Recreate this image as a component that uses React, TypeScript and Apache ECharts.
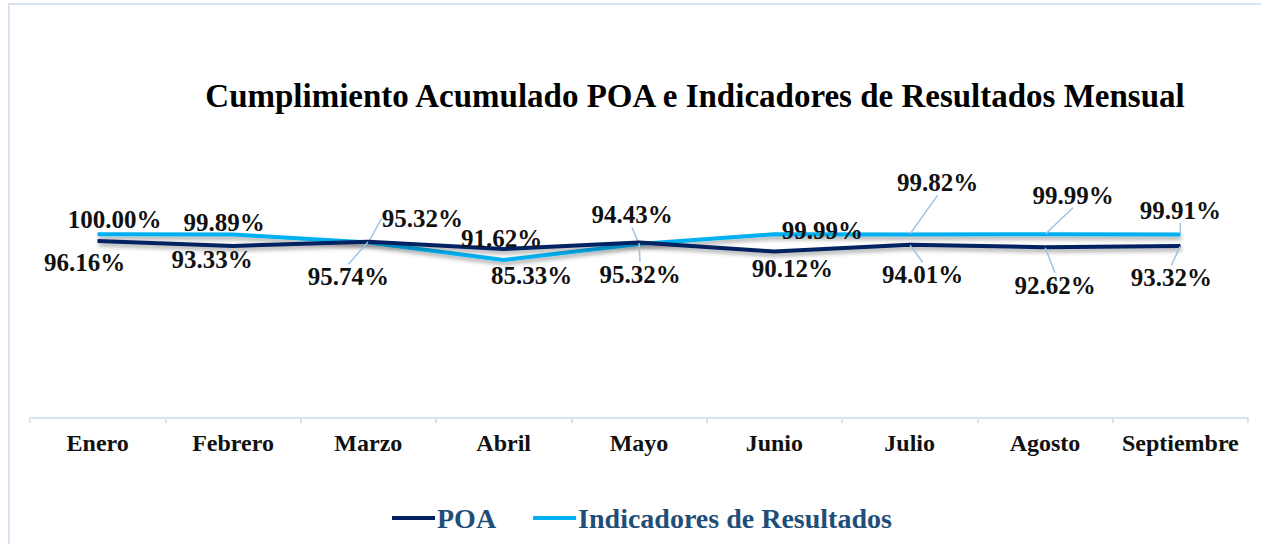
import React, { useEffect, useRef } from "react";
import * as echarts from "echarts";

const months = ["Enero", "Febrero", "Marzo", "Abril", "Mayo", "Junio", "Julio", "Agosto", "Septiembre"];
const poaValues = [96.16, 93.33, 95.74, 91.62, 95.32, 90.12, 94.01, 92.62, 93.32];
const indicadoresValues = [100.0, 99.89, 95.32, 85.33, 94.43, 99.99, 99.82, 99.99, 99.91];

// label placement (styling only): offsets of label centre from its point, and leader-line flags
const poaLabelOffsets = [[-13, 22], [-21, 14], [-20, 35], [-2, -10], [1, 32], [18, 17], [13, 30], [10, 38], [-9, 32]];
const poaLeader = [false, false, true, false, true, false, true, true, true];
const indLabelOffsets = [[17, -15], [-9, -12], [54, -24], [28, 16], [-7, -29], [48, -4], [28, -52], [28, -39], [0, -24]];
const indLeader = [false, false, true, false, true, false, true, true, true];

const SERIF = "'Liberation Serif', 'Times New Roman', serif";

export default function App() {
  const ref = useRef<HTMLDivElement>(null);
  useEffect(() => {
    document.body.style.margin = "0";
    if (!ref.current) return;
    const chart = echarts.init(ref.current, null, { renderer: "svg" });
    const labelStyle = {
      show: true,
      position: "inside",
      fontFamily: SERIF,
      fontWeight: "bold",
      fontSize: 25,
      color: "#111",
      formatter: (p: any) => Number(p.value).toFixed(2) + "%",
    };
    const mkData = (vals: number[], leader: boolean[]) =>
      vals.map((v, i) => ({
        value: v,
        labelLine: { show: leader[i] },
      }));
    const mkLayout = (offsets: number[][]) => (p: any) => ({
      dx: offsets[p.dataIndex][0],
      dy: offsets[p.dataIndex][1],
    });
    chart.setOption({
      animation: false,
      backgroundColor: "#fff",
      graphic: [
        {
          type: "rect",
          shape: { x: 9, y: 4, width: 1300, height: 600 },
          style: { fill: "none", stroke: "#D9E2F1", lineWidth: 2 },
          silent: true,
        },
        {
          type: "text",
          x: 695,
          y: 96,
          style: {
            text: "Cumplimiento Acumulado POA e Indicadores de Resultados Mensual",
            fontFamily: SERIF,
            fontWeight: "bold",
            fontSize: 33,
            fill: "#000",
            textAlign: "center",
            textVerticalAlign: "middle",
          },
        },
      ],
      legend: {
        left: 387,
        top: 499,
        icon: "rect",
        itemWidth: 43,
        itemHeight: 4,
        itemGap: 37,
        textStyle: { fontFamily: SERIF, fontWeight: "bold", fontSize: 28, color: "#1F4E79", padding: [0, 0, 0, -3] },
        data: ["POA", "Indicadores de Resultados"],
      },
      grid: { left: 30, width: 1218, top: 208, height: 210, outerBoundsMode: "none", containLabel: false },
      xAxis: {
        type: "category",
        data: months,
        boundaryGap: true,
        axisLine: { onZero: false, lineStyle: { color: "#D9E2F1", width: 2 } },
        axisTick: { show: true, length: 5, interval: 0, lineStyle: { color: "#D9E2F1", width: 2 } },
        axisLabel: { interval: 0, fontFamily: SERIF, fontWeight: "bold", fontSize: 24, color: "#111", margin: 13 },
      },
      yAxis: {
        type: "value",
        min: -5,
        max: 115,
        interval: 5,
        show: false,
        splitLine: { show: false },
      },
      series: [
        {
          name: "POA",
          type: "line",
          data: mkData(poaValues, poaLeader),
          symbol: "circle",
          symbolSize: 1,
          showSymbol: true,
          color: "#002060",
          lineStyle: { width: 4, color: "#002060", shadowColor: "rgba(0,0,0,0.35)", shadowBlur: 4, shadowOffsetY: 3, shadowOffsetX: 1 },
          label: labelStyle,
          labelLine: { show: false, lineStyle: { color: "#9DC3E6", width: 1.5 } },
          labelLayout: mkLayout(poaLabelOffsets),
          z: 3,
        },
        {
          name: "Indicadores de Resultados",
          type: "line",
          data: mkData(indicadoresValues, indLeader),
          symbol: "circle",
          symbolSize: 1,
          showSymbol: true,
          color: "#00B0F0",
          lineStyle: { width: 4, color: "#00B0F0", shadowColor: "rgba(0,0,0,0.35)", shadowBlur: 4, shadowOffsetY: 3, shadowOffsetX: 1 },
          label: labelStyle,
          labelLine: { show: false, lineStyle: { color: "#9DC3E6", width: 1.5 } },
          labelLayout: mkLayout(indLabelOffsets),
          z: 2,
        },
      ],
    });
    return () => chart.dispose();
  }, []);
  return <div ref={ref} style={{ width: 1261, height: 544 }} />;
}
